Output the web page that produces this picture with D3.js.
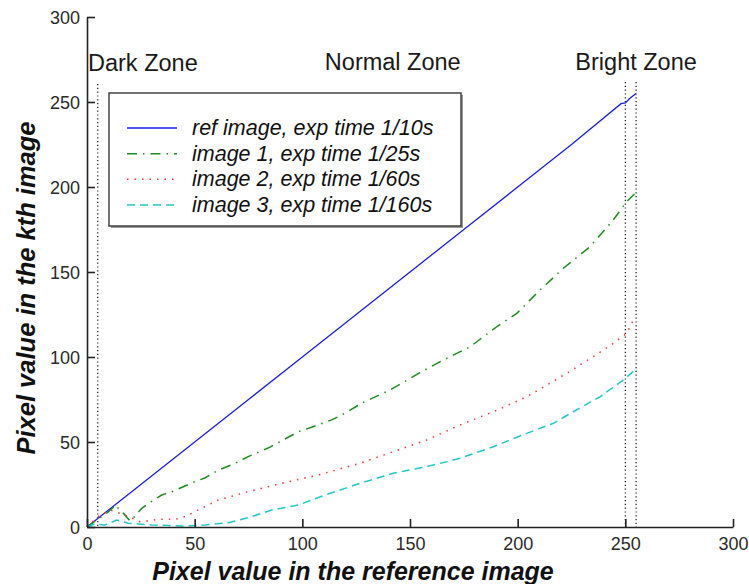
<!DOCTYPE html>
<html><head><meta charset="utf-8">
<script src="https://cdn.jsdelivr.net/npm/d3@7"></script>
<style>
html,body{margin:0;padding:0;background:#fff;}
svg{display:block;font-family:"Liberation Sans",Arial,Helvetica,sans-serif;}
</style></head>
<body>
<svg id="chart" width="749" height="584"></svg>
<script>
// ---- data ----
const xTicks = [0, 50, 100, 150, 200, 250, 300];
const yTicks = [0, 50, 100, 150, 200, 250, 300];
const zoneLines = [5, 250, 255];
const zoneLabels = ["Dark Zone", "Normal Zone", "Bright Zone"];
const zoneLabelX = [5, 142, 255]; // data x used to place labels

const seriesNames = [
  "ref image, exp time 1/10s",
  "image 1, exp time 1/25s",
  "image 2, exp time 1/60s",
  "image 3, exp time 1/160s"
];
const refImage = [[0,0],[10,10],[25,25],[50,50],[75,75],[100,100],[125,125],[150,150],[175,175],[200,200],[225,225],[248,249],[250,249.5],[252,252],[255,255]];
const image1 = [[0,0],[5,4.5],[10,9],[13.5,13],[15,10],[17,8],[20,3.5],[22,6],[25.4,11],[30,15],[34.7,18.8],[40,21],[48.6,25.9],[55,29],[61,33.5],[68,37],[74.9,41.4],[85,47],[98.1,56],[105,59],[113.6,63],[120,67],[127.6,72.9],[140.7,80.6],[154.6,90.8],[165.5,98.2],[177.9,106],[190.3,117.8],[199.6,125.7],[210.4,139.4],[221.2,152.2],[233.6,164.9],[244.4,180.6],[250.6,191.4],[255.3,197.2]];
const image2 = [[0,0],[5,6],[10.7,10],[17.6,7],[24.6,3.1],[33.1,4.5],[40.9,4.5],[45.5,6.1],[54.8,12],[61,15.9],[74.9,20.8],[90.4,25.7],[107.4,30.6],[126.8,37.5],[142.2,44.3],[157.8,51.2],[173.2,60],[188.7,67.8],[204.2,76.6],[213.5,83.5],[222.8,90.4],[235.1,100.2],[244.4,108],[250.6,113.9],[254.5,123.7]];
const image3 = [[0,0],[4,2],[8,1],[13.8,4.1],[19.2,2.2],[30,1.2],[45.5,0.6],[54.8,1.2],[65.6,2.5],[76.5,6.1],[85.8,10],[98.1,12.9],[110.5,18.8],[119.8,22.7],[126.8,25.7],[142.2,31.6],[157.8,35.5],[173.2,40.4],[188.7,47.2],[204.2,55.1],[216.6,61],[225.8,67.8],[238.2,76.6],[249.1,86.5],[254.5,92.4]];
const seriesData = [refImage, image1, image2, image3];
const seriesColors = ["#1c1cf0", "#1f8c1f", "#f03838", "#22c8c8"];
const seriesDash = [null, "10,6,1.5,6", "1.5,6", "8,5"];

// ---- layout ----
const svg = d3.select("#chart");
const x = d3.scaleLinear().domain([0, 300]).range([87, 733]);
const y = d3.scaleLinear().domain([0, 300]).range([527, 17]);

// zone vertical lines
svg.selectAll("line.zone").data(zoneLines).enter().append("line")
  .attr("class","zone")
  .attr("x1", d => x(d)).attr("x2", d => x(d))
  .attr("y1", d => d < 100 ? 84 : 82).attr("y2", y(0))
  .attr("stroke", "#111").attr("stroke-width", 1.2)
  .attr("stroke-dasharray", "1.2,2.6");

// zone labels
svg.append("text").text(zoneLabels[0]).attr("x", 88).attr("y", 71)
  .attr("font-size", 23.5).attr("fill", "#1a1a1a");
svg.append("text").text(zoneLabels[1]).attr("x", x(zoneLabelX[1])).attr("y", 70)
  .attr("text-anchor","middle").attr("font-size", 23.5).attr("fill", "#1a1a1a");
svg.append("text").text(zoneLabels[2]).attr("x", x(zoneLabelX[2])).attr("y", 70)
  .attr("text-anchor","middle").attr("font-size", 23.5).attr("fill", "#1a1a1a");

// series lines
const line = d3.line().x(d => x(d[0])).y(d => y(d[1]));
seriesData.forEach((s, i) => {
  svg.append("path").datum(s).attr("d", line)
    .attr("fill", "none").attr("stroke", seriesColors[i])
    .attr("stroke-width", i === 0 ? 1.3 : 1.5)
    .attr("stroke-dasharray", seriesDash[i]);
});

// axes
const xAxis = d3.axisBottom(x).tickValues(xTicks).tickSizeInner(-8).tickSizeOuter(0).tickPadding(14);
const yAxis = d3.axisLeft(y).tickValues(yTicks).tickSizeInner(-8).tickSizeOuter(0).tickPadding(14);
const gx = svg.append("g").attr("transform", `translate(0,${y(0)})`).call(xAxis);
const gy = svg.append("g").attr("transform", `translate(${x(0)},0)`).call(yAxis);
[gx, gy].forEach(g => {
  g.select(".domain").attr("stroke", "#222").attr("stroke-width", 1.6);
  g.selectAll(".tick line").attr("stroke", "#222").attr("stroke-width", 1.6);
  g.selectAll(".tick text").attr("font-size", 18).attr("fill", "#2a2a2a")
    .attr("font-family", "'Liberation Sans', Arial, sans-serif");
});
gx.selectAll(".tick text").attr("dy", "0.95em").attr("y", 6);
gy.selectAll(".tick text").attr("x", -7).attr("dy", "0.35em");

// axis titles
svg.append("text").text("Pixel value in the reference image")
  .attr("x", 353).attr("y", 580).attr("text-anchor","middle")
  .attr("font-size", 25).attr("font-weight","bold").attr("font-style","italic").attr("fill","#111");
svg.append("text").text("Pixel value in the kth image")
  .attr("transform", "translate(35,288) rotate(-90)").attr("text-anchor","middle")
  .attr("font-size", 25.5).attr("font-weight","bold").attr("font-style","italic").attr("fill","#111");

// legend
const lg = svg.append("g");
lg.append("rect").attr("x", 111).attr("y", 95).attr("width", 352).attr("height", 133)
  .attr("fill", "#999");
lg.append("rect").attr("x", 109).attr("y", 93).attr("width", 352).attr("height", 133)
  .attr("fill", "#fff").attr("stroke", "#444").attr("stroke-width", 1.5);
const rowY = d3.scalePoint().domain(d3.range(seriesNames.length)).range([128, 205]);
seriesNames.forEach((name, i) => {
  lg.append("line").attr("x1", 127).attr("x2", 177)
    .attr("y1", rowY(i)).attr("y2", rowY(i))
    .attr("stroke", seriesColors[i]).attr("stroke-width", 1.5)
    .attr("stroke-dasharray", seriesDash[i]);
  lg.append("text").text(name).attr("x", 192).attr("y", rowY(i) + 7)
    .attr("font-size", 21.5).attr("font-style","italic").attr("fill","#111");
});
</script>
</body></html>
